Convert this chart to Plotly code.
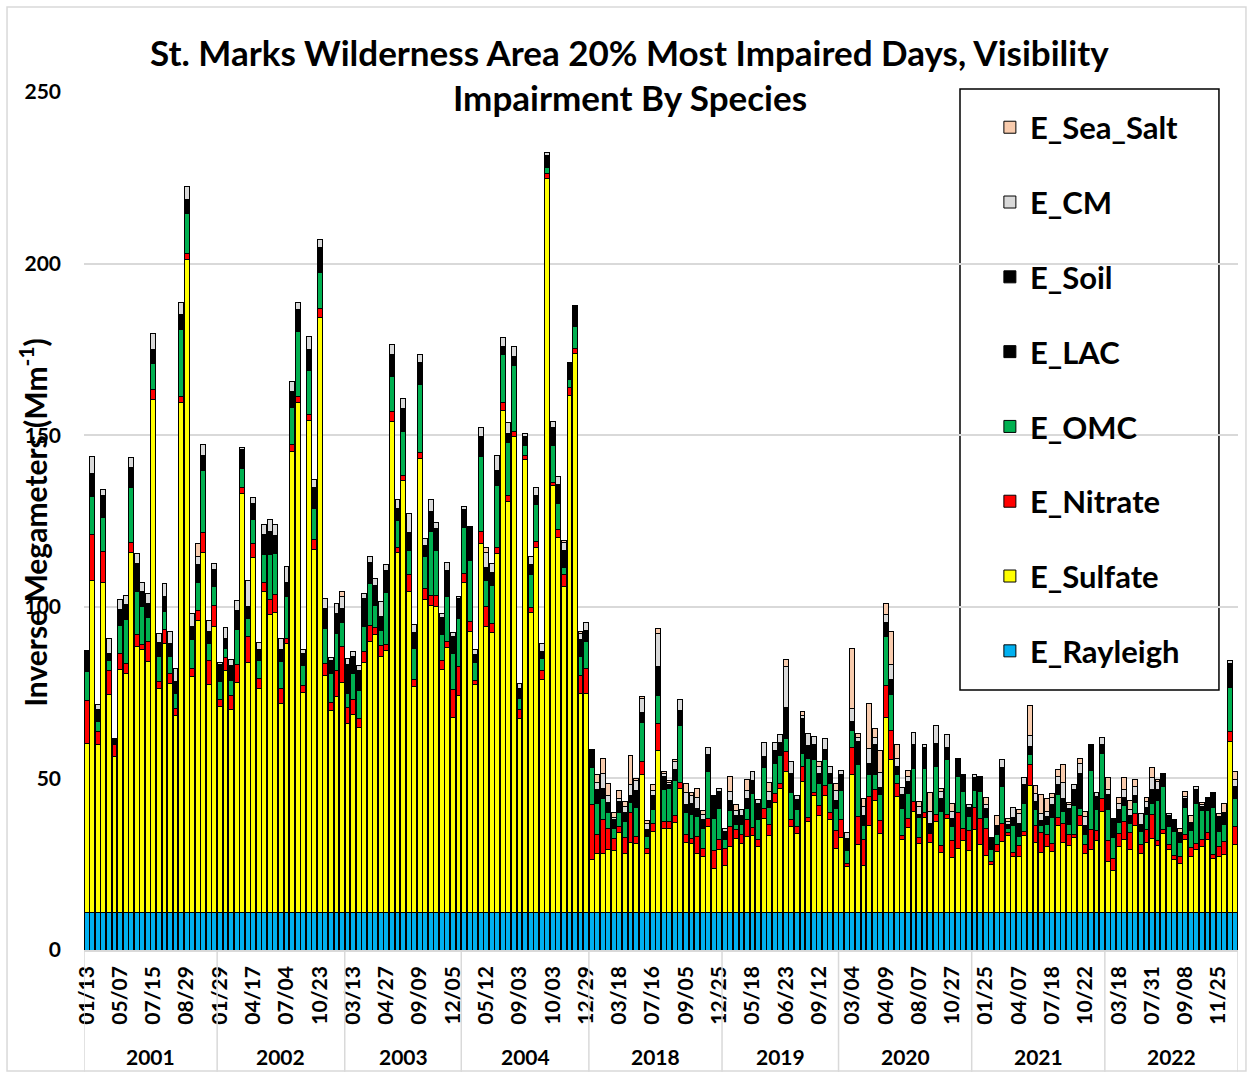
import plotly.graph_objects as go

# 20% most impaired days, grouped by year (bars per year)
years = ["2001", "2002", "2003", "2004", "2018", "2019", "2020", "2021", "2022"]
bars_per_year = [24, 23, 21, 23, 24, 21, 24, 24, 24]

# every 6th sample date is labelled on the axis
tick_labels = ["01/13", "05/07", "07/15", "08/29",
               "01/29", "04/17", "07/04", "10/23",
               "03/13", "04/27", "09/09", "12/05",
               "05/12", "09/03", "10/03", "12/29",
               "03/18", "07/16", "09/05", "12/25",
               "05/18", "06/23", "09/12",
               "03/04", "04/09", "08/07", "10/27",
               "01/25", "04/07", "07/18", "10/22",
               "03/18", "07/31", "09/08", "11/25"]

# light extinction by species, Mm-1
sulfate = [49.3, 96.7, 48.8, 96.2, 63.4, 45.4, 70.8, 69.5, 104.9, 77.4, 76.7, 73.1, 149.3, 65.2, 78.2, 66.6, 57.2, 148.5, 190.2, 68.8, 85.0, 104.9, 66.3, 83.2,
           60.0, 70.3, 59.1, 67.0, 122.0, 72.8, 103.3, 65.3, 93.4, 86.9, 87.4, 60.7, 78.4, 134.2, 148.5, 64.1, 143.2, 105.8, 173.3, 69.0, 58.7, 62.8, 67.0,
           54.9, 57.6, 53.8, 72.8, 79.0, 80.9, 74.4, 76.2, 142.9, 104.9, 125.8, 93.5, 65.9, 132.3, 91.2, 89.5, 89.0, 70.8, 77.1, 56.7, 63.2,
           96.2, 81.8, 66.4, 107.3, 83.2, 81.4, 104.4, 146.3, 119.6, 138.6, 56.6, 132.0, 87.3, 106.3, 67.8, 213.7, 124.3, 109.1, 95.0, 150.6, 162.7, 63.8, 63.8,
           15.4, 17.2, 17.2, 18.3, 18.1, 23.2, 17.2, 20.3, 20.1, 40.0, 17.0, 23.5, 47.1, 24.5, 24.5, 26.1, 36.1, 20.3, 19.9, 17.2, 16.2, 25.1, 12.8, 18.3,
           13.5, 19.3, 21.5, 19.9, 22.2, 22.5, 19.3, 27.4, 22.5, 31.9, 36.1, 41.0, 25.1, 23.0, 38.1, 26.4, 33.9, 28.1, 33.9, 26.9, 18.6,
           21.8, 13.3, 40.2, 19.8, 13.6, 25.2, 32.7, 23.0, 56.7, 44.4, 33.7, 21.1, 24.7, 29.5, 20.1, 27.6, 20.4, 26.4, 17.5, 27.2, 15.9, 18.6, 20.8, 17.9,
           24.0, 19.8, 16.5, 14.0, 17.7, 20.6, 22.5, 16.2, 16.2, 22.5, 36.9, 20.4, 17.5, 19.1, 17.7, 25.2, 20.4, 19.4, 21.8, 25.4, 17.2, 18.4, 20.8, 29.5,
           14.8, 12.2, 19.2, 21.1, 18.2, 25.2, 17.0, 20.3, 21.6, 19.4, 22.9, 18.4, 15.5, 14.1, 21.3, 16.2, 18.2, 19.2, 21.1, 15.8, 16.1, 16.7, 49.8, 19.6]

nitrate = [12.5, 13.5, 3.8, 9.0, 7.1, 3.4, 4.5, 2.9, 2.9, 3.4, 1.2, 5.8, 2.9, 2.1, 4.3, 2.9, 2.2, 1.9, 1.7, 2.1, 2.8, 5.8, 7.1, 6.2,
           2.0, 3.8, 4.1, 5.2, 1.9, 7.5, 4.0, 2.8, 2.7, 4.2, 5.3, 4.6, 1.5, 2.1, 1.9, 1.9, 1.8, 2.8, 2.7, 3.4, 2.3, 7.5, 10.4,
           4.9, 4.3, 2.7, 3.2, 4.6, 2.1, 3.2, 1.8, 2.9, 1.4, 1.6, 5.0, 2.0, 1.6, 3.0, 2.7, 3.2, 2.5, 1.9, 8.3, 8.3,
           2.4, 2.9, 1.0, 3.7, 5.8, 2.6, 1.9, 2.1, 1.8, 1.5, 2.6, 1.2, 1.4, 1.8, 2.5, 1.5, 1.0, 2.5, 3.4, 2.4, 1.6, 5.1, 7.2,
           15.9, 5.6, 9.7, 6.2, 3.4, 1.9, 4.6, 8.7, 1.9, 3.9, 1.6, 2.4, 7.8, 1.9, 1.9, 2.2, 1.7, 2.5, 1.6, 4.8, 2.4, 2.3, 5.1, 3.0,
           5.1, 5.6, 2.7, 2.9, 4.7, 2.3, 2.0, 2.9, 3.2, 2.6, 1.3, 5.8, 2.0, 1.9, 4.3, 1.3, 1.0, 2.9, 2.9, 2.1, 5.2,
           5.1, 1.0, 7.8, 8.1, 7.5, 8.5, 3.2, 3.6, 9.4, 8.7, 3.9, 1.4, 2.5, 2.9, 1.7, 1.5, 2.6, 2.2, 1.9, 1.4, 4.9, 10.5, 3.5, 5.8,
           6.5, 7.4, 8.0, 0.9, 1.9, 5.3, 0.8, 1.3, 3.2, 1.0, 6.2, 5.0, 5.8, 3.6, 2.4, 2.4, 5.5, 3.3, 0.9, 2.8, 2.4, 5.6, 2.9, 3.5,
           6.1, 3.6, 3.8, 5.4, 5.0, 3.7, 2.6, 3.7, 6.8, 1.5, 1.1, 1.2, 0.9, 2.1, 1.3, 2.8, 1.7, 1.9, 2.1, 0.9, 3.1, 3.9, 2.9, 5.4]

omc = [8.4, 10.9, 2.9, 9.8, 2.9, 0.3, 8.2, 13.0, 15.9, 12.8, 11.1, 6.9, 7.6, 7.2, 5.1, 5.0, 4.3, 19.5, 11.6, 8.7, 8.4, 18.0, 4.8, 5.4,
       5.2, 2.7, 4.3, 10.2, 5.3, 5.3, 7.0, 5.3, 8.2, 13.2, 11.9, 7.9, 12.2, 10.9, 18.9, 5.9, 12.9, 9.0, 10.5, 10.4, 8.7, 10.9, 7.0,
       3.8, 7.8, 8.1, 7.3, 12.1, 6.5, 4.4, 15.1, 10.3, 7.9, 12.7, 7.0, 9.0, 20.0, 9.4, 18.7, 13.3, 7.6, 13.0, 10.5, 14.0,
       13.4, 17.7, 5.3, 21.9, 7.6, 11.2, 18.0, 14.0, 15.4, 19.1, 3.2, 2.9, 9.7, 10.7, 3.6, 1.9, 10.8, 7.6, 2.1, 2.2, 6.3, 5.7, 7.9,
       10.9, 8.8, 6.1, 4.5, 3.0, 3.9, 4.6, 2.9, 8.6, 11.4, 3.4, 4.1, 8.4, 9.4, 9.7, 10.1, 16.5, 6.2, 7.1, 5.9, 5.9, 13.6, 9.5, 9.0,
       2.7, 4.7, 1.5, 2.9, 3.4, 9.7, 5.6, 11.9, 4.9, 8.7, 8.4, 3.9, 7.8, 4.9, 3.9, 17.2, 9.7, 6.4, 7.8, 8.6, 6.5,
       8.7, 3.6, 4.9, 15.2, 4.3, 6.3, 4.1, 7.6, 14.3, 10.4, 2.6, 7.8, 7.5, 9.6, 5.8, 12.9, 0.3, 13.9, 10.1, 15.8, 4.2, 10.4, 10.9, 4.2,
       4.9, 8.0, 3.1, 3.3, 3.1, 10.7, 1.0, 7.9, 2.6, 8.3, 2.8, 4.4, 1.9, 2.9, 7.5, 6.6, 3.6, 2.9, 8.4, 2.1, 3.1, 17.2, 6.1, 13.3,
       9.1, 6.1, 3.2, 4.5, 2.6, 3.1, 3.9, 4.4, 3.4, 11.7, 12.7, 5.4, 7.1, 4.1, 8.0, 4.8, 11.7, 8.6, 6.5, 13.9, 4.3, 4.9, 12.9, 8.0]

lac = [5.1, 5.6, 2.6, 5.4, 1.4, 1.1, 3.8, 3.2, 4.8, 7.1, 3.6, 3.2, 3.3, 3.1, 3.3, 2.7, 2.6, 3.4, 3.3, 2.6, 4.1, 3.4, 2.6, 4.0,
       4.0, 2.4, 3.4, 4.4, 4.5, 2.4, 3.8, 2.1, 4.9, 5.5, 4.2, 2.3, 3.0, 3.4, 5.3, 2.4, 5.2, 5.3, 6.2, 4.8, 2.7, 4.9, 3.0,
       7.6, 3.7, 4.7, 7.1, 5.1, 4.8, 3.3, 5.5, 5.5, 2.3, 5.8, 4.1, 3.5, 5.3, 2.3, 5.0, 5.2, 3.9, 6.6, 3.8, 5.0,
       4.3, 9.1, 1.8, 4.7, 2.9, 2.9, 3.3, 1.9, 2.1, 2.2, 2.4, 2.1, 2.3, 2.1, 1.6, 2.3, 4.1, 4.3, 4.0, 4.0, 5.2, 4.0, 2.3,
       4.3, 3.2, 2.1, 2.4, 1.9, 2.2, 2.1, 1.5, 4.0, 2.4, 1.5, 2.9, 7.3, 2.7, 0.7, 2.1, 3.5, 1.8, 2.1, 1.9, 1.9, 4.1, 5.5, 3.9,
       1.7, 2.1, 1.9, 1.9, 2.4, 2.9, 3.8, 2.3, 1.6, 2.9, 2.6, 8.0, 4.4, 2.1, 9.2, 2.6, 3.2, 2.4, 2.4, 2.2, 1.9,
       3.4, 2.5, 2.2, 5.6, 2.3, 2.4, 7.8, 1.6, 3.1, 3.2, 1.8, 3.1, 2.4, 5.8, 0.5, 5.0, 2.1, 5.8, 2.5, 2.6, 1.7, 4.4, 4.0, 2.1,
       2.8, 3.3, 2.0, 2.6, 1.8, 4.6, 0.8, 1.7, 2.9, 4.5, 1.9, 2.1, 0.9, 1.8, 2.9, 2.1, 2.7, 3.5, 3.8, 9.2, 2.2, 6.8, 2.9, 2.0,
       3.2, 4.5, 2.8, 1.8, 1.8, 1.4, 1.5, 1.7, 2.9, 2.3, 2.6, 2.2, 2.4, 2.4, 2.1, 1.9, 3.1, 0.6, 2.8, 3.3, 3.4, 2.6, 5.8, 2.5]

soil = [1.0, 1.0, 1.0, 1.0, 0.5, 0.5, 1.0, 1.0, 1.0, 1.0, 1.0, 1.0, 1.0, 1.0, 1.0, 1.0, 1.0, 1.0, 1.0, 1.0, 1.0, 1.0, 1.0, 1.0,
        1.0, 0.5, 1.0, 1.0, 1.0, 1.0, 1.0, 1.0, 1.0, 1.0, 1.0, 1.0, 1.0, 1.0, 1.0, 1.0, 1.0, 1.0, 1.0, 1.0, 1.0, 1.0, 1.0,
        1.0, 1.0, 1.0, 1.0, 1.0, 1.0, 1.0, 1.0, 1.0, 1.0, 1.0, 1.0, 1.0, 1.0, 1.0, 1.0, 1.0, 1.0, 1.0, 1.0, 1.0,
        1.0, 1.0, 0.5, 1.0, 1.0, 1.0, 1.0, 0.5, 0.5, 0.5, 0.5, 0.5, 0.5, 0.5, 0.5, 1.0, 1.0, 1.0, 1.0, 1.0, 1.0, 1.0, 1.0,
        1.0, 1.0, 1.0, 0.5, 0.5, 1.0, 0.5, 0.5, 1.0, 0.5, 0.5, 1.0, 1.0, 1.0, 0.5, 1.0, 1.0, 0.5, 1.0, 0.5, 0.5, 1.0, 1.0, 1.0,
        0.5, 1.0, 0.5, 0.5, 0.5, 1.0, 1.0, 1.0, 0.5, 1.0, 1.0, 1.0, 1.0, 1.0, 1.0, 1.0, 1.0, 0.5, 0.5, 0.5, 0.5,
        1.0, 1.0, 0.5, 1.0, 0.5, 1.0, 1.0, 0.5, 1.0, 1.0, 0.5, 1.0, 1.0, 1.0, 0.3, 1.0, 0.5, 1.0, 1.0, 1.0, 0.5, 1.0, 1.0, 0.5,
        1.0, 1.0, 0.5, 1.0, 0.5, 1.0, 0.5, 0.5, 1.0, 1.0, 0.5, 0.5, 0.5, 0.5, 1.0, 1.0, 1.0, 1.0, 1.0, 1.0, 0.5, 1.0, 1.0, 0.5,
        1.0, 1.0, 1.0, 0.5, 0.5, 0.5, 0.5, 0.5, 1.0, 1.0, 1.0, 1.0, 1.0, 0.5, 0.5, 0.5, 1.0, 0.5, 1.0, 1.0, 1.0, 1.0, 1.0, 1.0]

cm = [0.0, 5.1, 1.4, 1.7, 4.6, 0.0, 2.7, 2.6, 2.9, 2.9, 2.6, 2.9, 4.4, 2.5, 3.9, 3.6, 3.6, 3.4, 3.6, 3.9, 2.4, 3.3, 3.2, 1.9,
      0.6, 3.3, 1.8, 3.1, 0.6, 7.8, 1.7, 2.2, 2.8, 3.5, 3.1, 3.4, 4.7, 3.0, 2.2, 1.2, 3.7, 2.1, 2.4, 2.9, 0.9, 2.8, 3.5,
      1.6, 1.6, 1.6, 1.6, 1.8, 2.0, 4.3, 1.6, 2.7, 2.7, 2.7, 5.5, 2.4, 2.4, 2.1, 3.3, 1.9, 1.3, 2.4, 1.1, 0.5,
      0.9, 0.0, 1.5, 2.5, 4.3, 2.4, 4.6, 2.6, 3.3, 2.9, 1.4, 0.7, 2.6, 2.4, 2.2, 1.0, 1.8, 2.6, 2.2, 0.0, 0.0, 1.7, 2.2,
      0.0, 2.0, 4.2, 2.0, 0.8, 1.0, 1.8, 3.2, 2.7, 4.2, 1.9, 1.5, 9.7, 0.8, 0.5, 2.4, 3.3, 3.6, 2.2, 3.2, 1.5, 2.0, 0.0, 0.9,
      1.0, 2.5, 1.5, 1.9, 2.2, 2.6, 1.2, 3.9, 2.5, 2.3, 2.3, 11.9, 3.6, 1.0, 0.7, 3.5, 2.4, 2.1, 3.2, 2.3, 2.7,
      1.2, 1.9, 3.9, 1.2, 2.6, 4.2, 2.1, 4.5, 2.4, 4.6, 2.4, 1.9, 1.4, 3.7, 2.4, 1.0, 3.4, 5.1, 2.2, 3.7, 2.1, 0.0, 0.0, 0.8,
      1.0, 0.0, 1.2, 0.0, 0.3, 2.2, 0.8, 2.9, 2.9, 1.9, 3.2, 2.3, 2.2, 1.6, 1.9, 2.2, 4.7, 1.4, 1.4, 2.9, 2.5, 0.0, 1.3, 2.1,
      1.7, 0.0, 1.6, 2.4, 1.8, 2.6, 3.4, 1.7, 3.7, 2.2, 0.0, 0.5, 0.0, 0.0, 0.5, 0.0, 0.8, 0.5, 0.0, 0.0, 0.0, 0.0, 1.0, 2.1]

sea_salt = [0, 0, 0, 0, 0, 0, 0, 0, 0, 0, 0, 0, 0, 0, 0, 0, 0, 0, 0, 0, 3.8, 0, 0, 0,
            0, 0, 0, 0, 0, 0, 0, 0, 0, 0, 0, 0, 0, 0, 0, 0, 0, 0, 0, 0, 0, 0, 1.5,
            0, 0, 0, 0, 0, 0, 0, 0, 0, 0, 0, 0, 0, 0, 0, 0, 0, 0, 0, 0, 0,
            0, 0, 0, 0, 1.5, 0, 0, 0, 0, 0, 0, 0, 0, 0, 0, 0, 0, 0, 0.7, 0, 0, 0.5, 0,
            0, 2.2, 4.6, 3.5, 1.3, 2.2, 1.6, 8.7, 0.7, 0.6, 0.7, 1.7, 1.5, 0.7, 0.6, 0.7, 0, 2.5, 1.0, 2.6, 1.2, 0, 0, 0,
            0, 4.3, 1.7, 0, 3.2, 0, 0, 0, 2.6, 0, 0, 2.1, 0, 0, 1.3, 0, 0, 1.5, 0, 0, 2.0,
            0, 0, 17.4, 1.3, 2.4, 13.3, 2.5, 6.2, 3.2, 9.5, 4.1, 0, 1.7, 0, 1.4, 0, 5.7, 0, 0.9, 0, 2.5, 0, 0, 0,
            0, 0, 2.1, 0, 2.9, 0, 0.8, 0, 1.0, 0, 8.7, 2.2, 5.6, 3.5, 1.3, 2.0, 5.2, 0.6, 0, 1.3, 1.6, 0, 0, 0,
            3.5, 0, 1.7, 3.7, 2.7, 2.3, 0, 1.0, 2.9, 0.7, 0, 0, 0, 1.3, 1.5, 1.9, 0, 0.7, 0, 0, 0.8, 2.5, 0, 2.4]

n = len(sulfate)
rayleigh = [11.0] * n  # site Rayleigh scattering is the same on every day

x = list(range(n))

species = [("E_Rayleigh", rayleigh, "#00B0F0"),
           ("E_Sulfate", sulfate, "#FFFF00"),
           ("E_Nitrate", nitrate, "#FF0000"),
           ("E_OMC", omc, "#00B050"),
           ("E_LAC", lac, "#000000"),
           ("E_Soil", soil, "#000000"),
           ("E_CM", cm, "#D9D9D9"),
           ("E_Sea_Salt", sea_salt, "#F8CBAD")]

FONT = "Lato"

fig = go.Figure()
for i, (name, vals, col) in enumerate(species):
    fig.add_trace(go.Bar(x=x, y=vals, name=name, legendgroup=name,
                         legendrank=len(species) - i,
                         marker=dict(color=col, line=dict(color="black", width=1))))

# year group boundaries and labels
starts = [sum(bars_per_year[:i]) for i in range(len(years))]
shapes = []
annotations = []
for i, yr in enumerate(years):
    s = starts[i]
    e = s + bars_per_year[i]
    annotations.append(dict(x=(s + e - 1) / 2, y=-0.1247, xref="x", yref="paper",
                            text=yr, showarrow=False, xanchor="center", yanchor="middle",
                            font=dict(family=FONT, size=21, color="black", weight="bold")))
    shapes.append(dict(type="line", xref="x", yref="paper", x0=s - 0.5, x1=s - 0.5,
                       y0=0, y1=-0.142, line=dict(color="#D9D9D9", width=1.5)))
shapes.append(dict(type="line", xref="x", yref="paper", x0=n - 0.5, x1=n - 0.5,
                   y0=0, y1=-0.142, line=dict(color="#D9D9D9", width=1.5)))

# legend frame and chart border
shapes.append(dict(type="rect", xref="paper", yref="paper", x0=0.7591, x1=0.9835,
                   y0=0.303, y1=1.0035, line=dict(color="black", width=1.5),
                   fillcolor="white", layer="between"))
shapes.append(dict(type="rect", xref="paper", yref="paper", x0=-0.0667, x1=1.0069,
                   y0=-0.141, y1=1.099, line=dict(color="#D9D9D9", width=1.5)))

# title (two lines) and y-axis title
annotations.append(dict(x=0.4731, y=1.0466, xref="paper", yref="paper", showarrow=False,
                        xanchor="center", yanchor="middle",
                        text="St. Marks Wilderness Area 20% Most Impaired Days, Visibility",
                        font=dict(family=FONT, size=35, color="black", weight="bold")))
annotations.append(dict(x=0.4731, y=0.9942, xref="paper", yref="paper", showarrow=False,
                        xanchor="center", yanchor="middle",
                        text="Impairment By Species",
                        font=dict(family=FONT, size=35, color="black", weight="bold")))
annotations.append(dict(x=-0.0442, y=0.499, xref="paper", yref="paper", showarrow=False,
                        xanchor="center", yanchor="middle",
                        textangle=-90, text="Inverse Megameters (Mm<sup>-1</sup>)",
                        font=dict(family=FONT, size=30, color="black", weight="bold")))

fig.update_layout(
    width=1253, height=1074,
    margin=dict(l=84, r=15, t=92, b=124),
    barmode="stack", bargap=0.12,
    plot_bgcolor="white", paper_bgcolor="white",
    font=dict(family=FONT, color="black"),
    shapes=shapes, annotations=annotations,
    legend=dict(x=0.785, y=0.99, xanchor="left", yanchor="top",
                traceorder="grouped", tracegroupgap=31.5,
                bgcolor="rgba(0,0,0,0)", borderwidth=0,
                font=dict(family=FONT, size=31, color="black", weight="bold")),
    xaxis=dict(range=[-0.5, n - 0.5], tickmode="array",
               tickvals=list(range(0, n, 6)), ticktext=tick_labels,
               tickangle=-90, ticks="", showgrid=False, zeroline=False,
               showline=True, linecolor="#D9D9D9", linewidth=1.5,
               ticklabelstandoff=6,
               tickfont=dict(family=FONT, size=21, color="black", weight="bold")),
    yaxis=dict(range=[0, 250], dtick=50, showgrid=True, gridcolor="#D9D9D9",
               gridwidth=1.5, zeroline=False, ticks="", ticklabelstandoff=22,
               tickfont=dict(family=FONT, size=21, color="black", weight="bold")),
)

fig.write_html("out.html", config={"displayModeBar": False},
               post_script="document.body.style.margin='0';")
